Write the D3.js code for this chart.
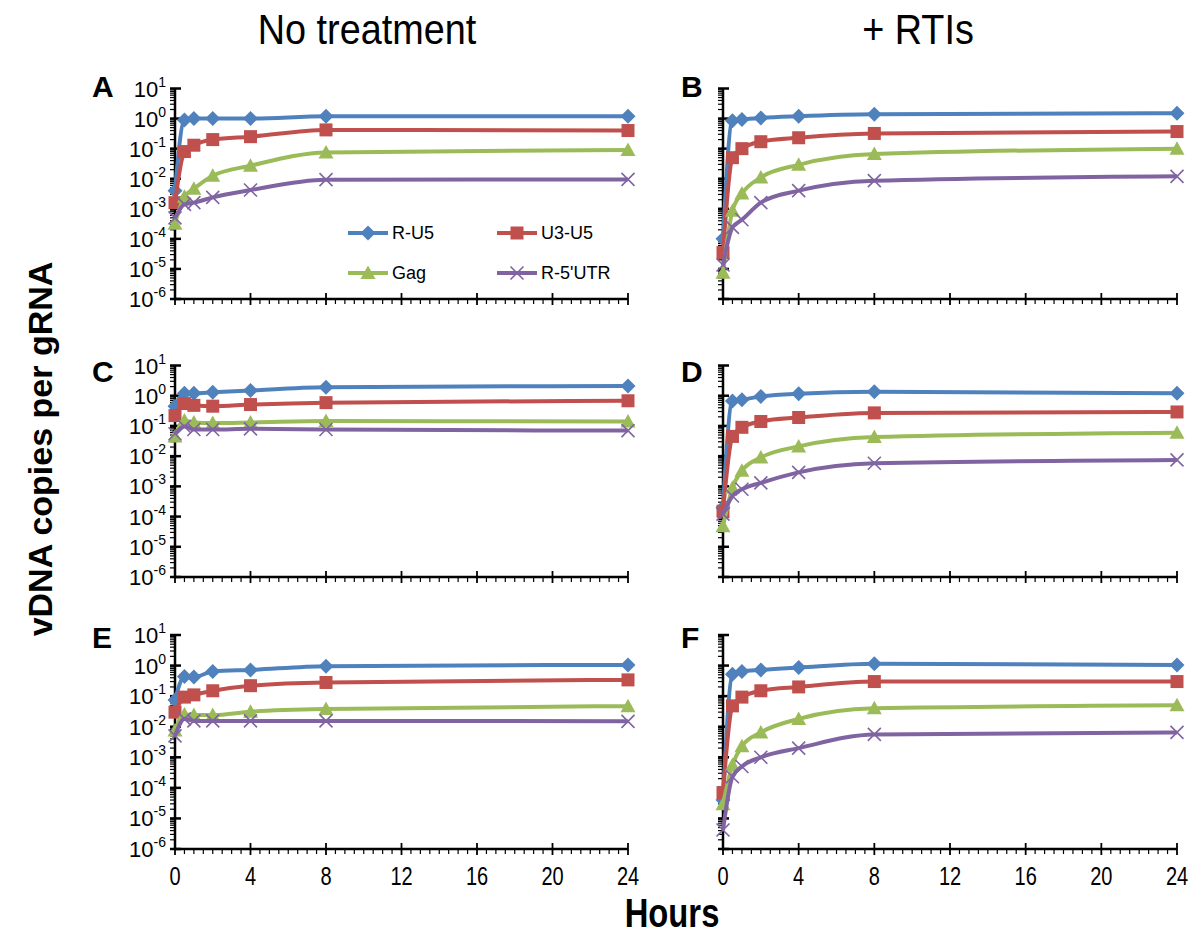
<!DOCTYPE html>
<html>
<head>
<meta charset="utf-8">
<script src="https://cdn.jsdelivr.net/npm/d3@7"></script>
<style>
  html, body { margin: 0; padding: 0; background: #fff; }
  svg { display: block; }
</style>
</head>
<body>
<script>
// ---------------- DATA ----------------
const hours = [0, 0.5, 1, 2, 4, 8, 24];
const seriesNames = ["R-U5", "U3-U5", "Gag", "R-5'UTR"];
const columnTitles = ["No treatment", "+ RTIs"];
const panelLetters = ["A", "B", "C", "D", "E", "F"];
const yExponents = [1, 0, -1, -2, -3, -4, -5, -6];
const xTickLabels = [0, 4, 8, 12, 16, 20, 24];

// each panel: [R-U5, U3-U5, Gag, R-5'UTR]
const panelA_RU5  = [0.004, 0.9, 1.0, 1.0, 1.0, 1.2, 1.2];
const panelA_U3U5 = [0.0016, 0.08, 0.13, 0.2, 0.25, 0.42, 0.4];
const panelA_Gag  = [0.00032, 0.0025, 0.0046, 0.0125, 0.027, 0.075, 0.09];
const panelA_R5   = [0.0005, 0.0014, 0.0016, 0.0024, 0.0042, 0.0093, 0.0095];

const panelB_RU5  = [0.0001, 0.85, 0.93, 1.05, 1.2, 1.4, 1.5];
const panelB_U3U5 = [0.000035, 0.05, 0.1, 0.17, 0.23, 0.32, 0.37];
const panelB_Gag  = [0.0000075, 0.00086, 0.0032, 0.011, 0.029, 0.066, 0.1];
const panelB_R5   = [0.0000135, 0.00024, 0.00043, 0.0016, 0.004, 0.0086, 0.012];

const panelC_RU5  = [0.45, 1.2, 1.2, 1.3, 1.5, 1.9, 2.1];
const panelC_U3U5 = [0.22, 0.55, 0.48, 0.45, 0.51, 0.59, 0.68];
const panelC_Gag  = [0.045, 0.15, 0.13, 0.125, 0.13, 0.145, 0.14];
const panelC_R5   = [0.055, 0.096, 0.076, 0.076, 0.08, 0.076, 0.07];

const panelD_RU5  = [0.0002, 0.67, 0.74, 0.95, 1.17, 1.34, 1.2];
const panelD_U3U5 = [0.00015, 0.045, 0.09, 0.14, 0.19, 0.27, 0.29];
const panelD_Gag  = [0.000048, 0.0009, 0.0033, 0.009, 0.021, 0.043, 0.06];
const panelD_R5   = [0.00012, 0.00048, 0.0008, 0.0013, 0.0029, 0.0058, 0.0075];

const panelE_RU5  = [0.075, 0.44, 0.42, 0.64, 0.72, 0.95, 1.05];
const panelE_U3U5 = [0.03, 0.093, 0.11, 0.15, 0.22, 0.28, 0.34];
const panelE_Gag  = [0.0075, 0.025, 0.024, 0.024, 0.031, 0.038, 0.047];
const panelE_R5   = [0.005, 0.018, 0.0155, 0.0155, 0.0155, 0.0155, 0.015];

const panelF_RU5  = [0.00004, 0.52, 0.64, 0.72, 0.86, 1.15, 1.05];
const panelF_U3U5 = [0.00007, 0.048, 0.093, 0.15, 0.2, 0.3, 0.3];
const panelF_Gag  = [0.000029, 0.00056, 0.0023, 0.0065, 0.018, 0.04, 0.05];
const panelF_R5   = [0.0000042, 0.00023, 0.0005, 0.001, 0.002, 0.0056, 0.0065];

const panelData = [
  [panelA_RU5, panelA_U3U5, panelA_Gag, panelA_R5],
  [panelB_RU5, panelB_U3U5, panelB_Gag, panelB_R5],
  [panelC_RU5, panelC_U3U5, panelC_Gag, panelC_R5],
  [panelD_RU5, panelD_U3U5, panelD_Gag, panelD_R5],
  [panelE_RU5, panelE_U3U5, panelE_Gag, panelE_R5],
  [panelF_RU5, panelF_U3U5, panelF_Gag, panelF_R5]
];

// ---------------- STYLE / LAYOUT ----------------
const colors = ["#4F81BD", "#C0504D", "#9BBB59", "#8064A2"];
const markerTypes = ["diamond", "square", "triangle", "x"];
const colX = [[175, 628], [723, 1177]];
const rowY = [[88.5, 299], [365.5, 577], [635, 849]]; // [top(10^1), bottom(10^-6)]
const letterBase = [97, 382, 648];
const sans = "'Liberation Sans', Arial, Helvetica, sans-serif";

const svg = d3.select("body").append("svg")
  .attr("width", 1200).attr("height", 935);

function drawMarker(g, type, color) {
  if (type === "diamond") {
    g.append("path").attr("d", "M0,-7.5L7.5,0L0,7.5L-7.5,0Z").attr("fill", color);
  } else if (type === "square") {
    g.append("rect").attr("x", -6.5).attr("y", -6.5).attr("width", 13).attr("height", 13).attr("fill", color);
  } else if (type === "triangle") {
    g.append("path").attr("d", "M0,-7.5L7.5,6L-7.5,6Z").attr("fill", color);
  } else {
    g.append("path").attr("d", "M-6.5,-6.5L6.5,6.5M-6.5,6.5L6.5,-6.5")
      .attr("stroke", color).attr("stroke-width", 1.6).attr("fill", "none");
  }
}

// condensed text helper (emulates Arial Narrow with a horizontal squeeze)
function narrowText(sel, x, y, txt, size, sx, bold) {
  return sel.append("text")
    .attr("transform", `translate(${x},${y}) scale(${sx},1)`)
    .attr("text-anchor", "middle")
    .attr("font-family", sans).attr("font-size", size)
    .attr("font-weight", bold ? "bold" : "normal")
    .attr("fill", "#000").text(txt);
}

// column titles
columnTitles.forEach((t, i) => {
  narrowText(svg, [367, 918][i], 44, t, 42, 0.9, false);
});

// axis titles
svg.append("text")
  .attr("transform", "translate(52,449) rotate(-90)")
  .attr("text-anchor", "middle")
  .attr("font-family", sans).attr("font-weight", "bold").attr("font-size", 34)
  .text("vDNA copies per gRNA");
narrowText(svg, 672, 927, "Hours", 40, 0.82, true);

panelData.forEach((series, p) => {
  const col = p % 2, row = Math.floor(p / 2);
  const x = d3.scaleLinear().domain([0, 24]).range(colX[col]);
  const y = d3.scaleLog().domain([1e-6, 10]).range([rowY[row][1], rowY[row][0]]);
  const g = svg.append("g");
  const x0 = x(0), yb = y(1e-6);

  // panel letter
  g.append("text")
    .attr("x", col === 0 ? 92 : 681).attr("y", letterBase[row])
    .attr("font-family", sans).attr("font-weight", "bold").attr("font-size", 30)
    .text(panelLetters[p]);

  // y minor ticks
  const minor = [];
  for (let e = -6; e < 1; e++) for (let m = 2; m <= 9; m++) minor.push(m * Math.pow(10, e));
  g.selectAll(".ymin").data(minor).enter().append("line")
    .attr("x1", x0 - 5).attr("x2", x0)
    .attr("y1", d => y(d)).attr("y2", d => y(d))
    .attr("stroke", "#000").attr("stroke-width", 1.2);
  // y major ticks
  const major = yExponents.map(e => Math.pow(10, e));
  g.selectAll(".ymaj").data(major).enter().append("line")
    .attr("x1", x0 - 5).attr("x2", x0 + 6)
    .attr("y1", d => y(d)).attr("y2", d => y(d))
    .attr("stroke", "#000").attr("stroke-width", 2.5);
  // x minor ticks
  const xmin = d3.range(0, 24.01, 0.5).filter(v => v % 4 !== 0);
  g.selectAll(".xmin").data(xmin).enter().append("line")
    .attr("x1", d => x(d)).attr("x2", d => x(d))
    .attr("y1", yb).attr("y2", yb + 5)
    .attr("stroke", "#000").attr("stroke-width", 1.2);
  g.selectAll(".xmaj").data(xTickLabels).enter().append("line")
    .attr("x1", d => x(d)).attr("x2", d => x(d))
    .attr("y1", yb - 6).attr("y2", yb + 6)
    .attr("stroke", "#000").attr("stroke-width", 1.8);
  // axis lines
  g.append("line").attr("x1", x0).attr("x2", x0).attr("y1", y(10)).attr("y2", yb)
    .attr("stroke", "#000").attr("stroke-width", 2.5);
  g.append("line").attr("x1", x0).attr("x2", x(24)).attr("y1", yb).attr("y2", yb)
    .attr("stroke", "#000").attr("stroke-width", 2.5);

  // y tick labels (left column)
  if (col === 0) {
    yExponents.forEach(e => {
      const t = g.append("text")
        .attr("x", 166).attr("y", y(Math.pow(10, e)) + 8)
        .attr("text-anchor", "end")
        .attr("font-family", sans).attr("font-size", 22);
      t.append("tspan").text("10");
      t.append("tspan").attr("dy", -10).attr("font-size", 14).text(String(e));
    });
  }
  // x tick labels (bottom row)
  if (row === 2) {
    xTickLabels.forEach(v => {
      narrowText(g, x(v), 885, String(v), 25, 0.8, false);
    });
  }

  // series
  const line = d3.line()
    .x((d, i) => x(hours[i]))
    .y(d => y(d))
    .curve(d3.curveMonotoneX);
  series.forEach((vals, s) => {
    g.append("path").datum(vals)
      .attr("d", line)
      .attr("fill", "none").attr("stroke", colors[s])
      .attr("stroke-width", 4).attr("stroke-linejoin", "round");
    vals.forEach((v, i) => {
      const mg = g.append("g").attr("transform", `translate(${x(hours[i])},${y(v)})`);
      drawMarker(mg, markerTypes[s], colors[s]);
    });
  });
});

// legend (panel A)
const legendItems = [
  { s: 0, lx: 348, ly: 233 },
  { s: 1, lx: 497, ly: 233 },
  { s: 2, lx: 348, ly: 273 },
  { s: 3, lx: 497, ly: 273 }
];
legendItems.forEach(it => {
  const g = svg.append("g");
  g.append("line").attr("x1", it.lx).attr("x2", it.lx + 40)
    .attr("y1", it.ly).attr("y2", it.ly)
    .attr("stroke", colors[it.s]).attr("stroke-width", 4);
  const mg = g.append("g").attr("transform", `translate(${it.lx + 20},${it.ly})`);
  drawMarker(mg, markerTypes[it.s], colors[it.s]);
  g.append("text").attr("x", it.lx + 44).attr("y", it.ly + 6)
    .attr("font-family", sans).attr("font-size", 18)
    .text(seriesNames[it.s]);
});
</script>
</body>
</html>
